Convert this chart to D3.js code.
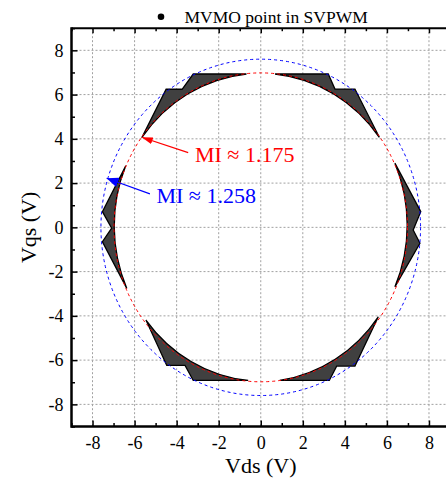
<!DOCTYPE html>
<html>
<head>
<meta charset="utf-8">
<script src="https://cdn.jsdelivr.net/npm/d3@7"></script>
<style>
  html, body { margin: 0; padding: 0; background: #fff; }
  svg { display: block; }
  text { font-family: "Liberation Serif", "Times New Roman", serif; }
</style>
</head>
<body>
<svg id="chart" width="446" height="482"></svg>
<script>
// ---------------- data ----------------
const xTicks = [-8, -6, -4, -2, 0, 2, 4, 6, 8];
const yTicks = [-8, -6, -4, -2, 0, 2, 4, 6, 8];
const minorTicks = [-9, -7, -5, -3, -1, 1, 3, 5, 7, 9];

// outer boundaries of the MVMO point clusters (Vds, Vqs), listed clockwise;
// each cluster closes back along the inner (MI ≈ 1.175) circle
const clusterTopLeft     = [[-5.66, 4.05], [-4.50, 6.24], [-3.74, 6.24], [-3.21, 6.93], [-0.68, 6.93]];
const clusterTopRight    = [[0.68, 6.93], [3.21, 6.93], [3.53, 6.25], [4.48, 6.25], [5.64, 4.07]];
const clusterRight       = [[6.38, 2.90], [7.61, 0.71], [7.25, -0.12], [7.57, -0.72], [6.38, -2.69]];
const clusterBottomRight = [[5.59, -4.04], [4.48, -6.27], [3.61, -6.27], [3.26, -6.92], [0.90, -6.92]];
const clusterBottomLeft  = [[-0.60, -6.92], [-3.21, -6.92], [-3.60, -6.24], [-4.47, -6.24], [-5.46, -4.19]];
const clusterLeft        = [[-6.37, -2.76], [-7.53, -0.65], [-7.09, -0.04], [-7.53, 0.71], [-6.42, 2.78]];
const clusters = [clusterTopLeft, clusterTopRight, clusterRight, clusterBottomRight, clusterBottomLeft, clusterLeft];

const innerRadius = 6.98;   // MI ≈ 1.175 circle
const outerRadius = 7.6;    // MI ≈ 1.258 circle

const annRed  = { text: "MI ≈ 1.175", tx: -3.13, ty: 2.96, from: [-3.45, 3.38], to: [-5.66, 4.07] };
const annBlue = { text: "MI ≈ 1.258", tx: -4.96, ty: 1.08, from: [-5.27, 1.51], to: [-7.33, 2.22] };

// ---------------- chart ----------------
const svg = d3.select("#chart");
const x = d3.scaleLinear().domain([-9, 9]).range([71.5, 450]);
const y = d3.scaleLinear().domain([-9, 9]).range([426.5, 28.2]);
const [x0, x1] = x.range();
const [y0, y1] = y.range();

const defs = svg.append("defs");
defs.append("clipPath").attr("id", "plotclip")
  .append("rect").attr("x", x0).attr("y", y1).attr("width", x1 - x0).attr("height", y0 - y1);
function marker(id, color, w, h) {
  defs.append("marker").attr("id", id)
    .attr("markerUnits", "userSpaceOnUse")
    .attr("viewBox", `0 0 ${w} ${h}`)
    .attr("markerWidth", w).attr("markerHeight", h)
    .attr("refX", w).attr("refY", h / 2)
    .attr("orient", "auto")
    .append("path").attr("d", `M0,0 L${w},${h / 2} L0,${h} Z`).attr("fill", color);
}
marker("arrRed", "#ff0000", 11, 7);
marker("arrBlue", "#0000ff", 12, 10);

// grid
const grid = svg.append("g");
grid.selectAll(".gx").data(xTicks).join("line")
  .attr("x1", d => x(d)).attr("x2", d => x(d)).attr("y1", y1).attr("y2", y0)
  .attr("stroke", "#a0a0a0").attr("stroke-width", 1).attr("stroke-dasharray", "2,2");
grid.selectAll(".gy").data(yTicks).join("line")
  .attr("y1", d => y(d)).attr("y2", d => y(d)).attr("x1", x0).attr("x2", x1)
  .attr("stroke", "#a0a0a0").attr("stroke-width", 1).attr("stroke-dasharray", "2,2");

const plot = svg.append("g").attr("clip-path", "url(#plotclip)");

// clusters
const rx = x(innerRadius) - x(0), ry = y(0) - y(innerRadius);
plot.selectAll(".cluster").data(clusters).join("path")
  .attr("d", pts => {
    const p = d3.path();
    pts.forEach((q, i) => i ? p.lineTo(x(q[0]), y(q[1])) : p.moveTo(x(q[0]), y(q[1])));
    const s = pts[0];
    return p.toString() + ` A${rx},${ry} 0 0 0 ${x(s[0])},${y(s[1])} Z`;
  })
  .attr("fill", "#404040").attr("stroke", "#000").attr("stroke-width", 1.3)
  .attr("stroke-linejoin", "miter");

// circles
plot.append("ellipse").attr("cx", x(0)).attr("cy", y(0))
  .attr("rx", rx).attr("ry", ry)
  .attr("fill", "none").attr("stroke", "#ff0000").attr("stroke-width", 1)
  .attr("stroke-dasharray", "3,3");
plot.append("ellipse").attr("cx", x(0)).attr("cy", y(0))
  .attr("rx", x(outerRadius) - x(0)).attr("ry", y(0) - y(outerRadius))
  .attr("fill", "none").attr("stroke", "#0000ff").attr("stroke-width", 1)
  .attr("stroke-dasharray", "3,3");

// annotations
[[annRed, "#ff0000", "arrRed"], [annBlue, "#0000ff", "arrBlue"]].forEach(([a, c, m]) => {
  svg.append("line")
    .attr("x1", x(a.from[0])).attr("y1", y(a.from[1]))
    .attr("x2", x(a.to[0])).attr("y2", y(a.to[1]))
    .attr("stroke", c).attr("stroke-width", 1.2)
    .attr("marker-end", `url(#${m})`);
  svg.append("text").attr("x", x(a.tx)).attr("y", y(a.ty))
    .attr("fill", c).attr("font-size", 22).text(a.text);
});

// axes frame
const frame = svg.append("g");
frame.append("line").attr("x1", x0).attr("x2", x1).attr("y1", y1).attr("y2", y1)
  .attr("stroke", "#000").attr("stroke-width", 2);
frame.append("line").attr("x1", x0).attr("x2", x1).attr("y1", y0).attr("y2", y0)
  .attr("stroke", "#000").attr("stroke-width", 2.5);
frame.append("line").attr("x1", x0).attr("x2", x0).attr("y1", y1 - 1).attr("y2", y0 + 1.25)
  .attr("stroke", "#000").attr("stroke-width", 2.5);

// ticks (inward)
const xAxis = d3.axisBottom(x).tickValues(xTicks).tickSize(-6).tickPadding(10)
  .tickFormat(d => d);
const gx = svg.append("g").attr("transform", `translate(0,${y0})`).call(xAxis);
gx.select(".domain").remove();
gx.selectAll("text").attr("font-size", 18).attr("font-family", "Liberation Serif").attr("fill", "#000");
const gxm = svg.append("g").attr("transform", `translate(0,${y0})`)
  .call(d3.axisBottom(x).tickValues(minorTicks).tickSize(-3.5).tickFormat(""));
gxm.select(".domain").remove();
const gxt = svg.append("g").attr("transform", `translate(0,${y1})`)
  .call(d3.axisTop(x).tickValues(xTicks).tickSize(-5).tickFormat(""));
gxt.select(".domain").remove();
const gxtm = svg.append("g").attr("transform", `translate(0,${y1})`)
  .call(d3.axisTop(x).tickValues(minorTicks).tickSize(-3).tickFormat(""));
gxtm.select(".domain").remove();

const yAxis = d3.axisLeft(y).tickValues(yTicks).tickSize(-6).tickPadding(8)
  .tickFormat(d => d);
const gy = svg.append("g").attr("transform", `translate(${x0},0)`).call(yAxis);
gy.select(".domain").remove();
gy.selectAll("text").attr("font-size", 18).attr("font-family", "Liberation Serif").attr("fill", "#000");
const gym = svg.append("g").attr("transform", `translate(${x0},0)`)
  .call(d3.axisLeft(y).tickValues(minorTicks).tickSize(-3.5).tickFormat(""));
gym.select(".domain").remove();
svg.selectAll(".tick line").attr("stroke", "#000").attr("stroke-width", 1.5);

// axis titles
svg.append("text").attr("x", x(0)).attr("y", 473).attr("text-anchor", "middle")
  .attr("font-size", 22).text("Vds (V)");
svg.append("text").attr("transform", `translate(36,${y(0)}) rotate(-90)`)
  .attr("text-anchor", "middle").attr("font-size", 22).text("Vqs (V)");

// legend
svg.append("circle").attr("cx", 161).attr("cy", 16.8).attr("r", 3.3).attr("fill", "#000");
svg.append("text").attr("x", 184.5).attr("y", 22.5).attr("font-size", 17.5).text("MVMO point in SVPWM");
</script>
</body>
</html>
